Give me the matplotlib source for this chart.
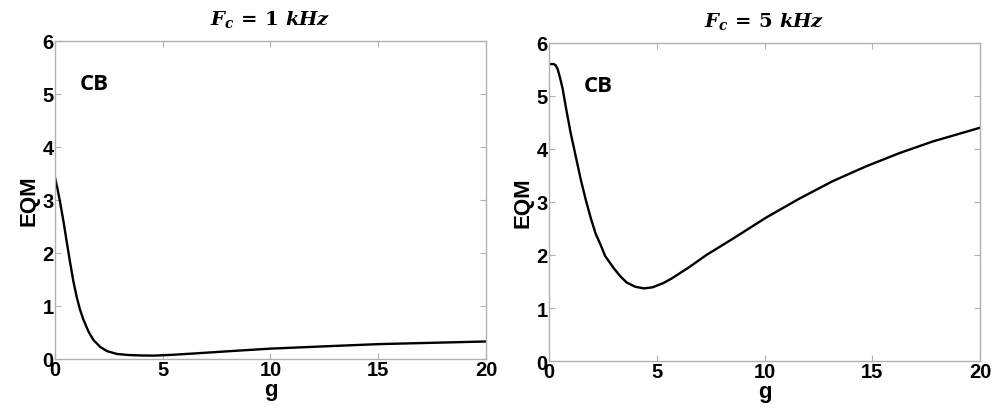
import matplotlib
matplotlib.use("Agg")
import matplotlib.pyplot as plt

plt.rcParams['mathtext.fontset'] = 'custom'
plt.rcParams['mathtext.it'] = 'DejaVu Serif:italic:bold'
plt.rcParams['mathtext.rm'] = 'DejaVu Serif:bold'
plt.rcParams['mathtext.bf'] = 'DejaVu Serif:bold'

# values
g1 = [0, 0.12, 0.23, 0.39, 0.54, 0.7, 0.85, 1.0, 1.16, 1.32, 1.55, 1.78, 2.09, 2.4, 2.87, 3.4,
      4.0, 4.6, 5.5, 6.5, 8.6, 10, 12, 15, 17.5, 20]
eqm1 = [3.42, 3.2, 2.97, 2.6, 2.22, 1.82, 1.47, 1.18, 0.93, 0.74, 0.52, 0.36, 0.23, 0.15, 0.095, 0.075,
        0.066, 0.063, 0.08, 0.105, 0.16, 0.195, 0.23, 0.28, 0.305, 0.33]

g2 = [0, 0.2, 0.3, 0.4, 0.5, 0.62, 0.77, 1.0, 1.24, 1.47, 1.7, 1.93, 2.16, 2.38, 2.6, 3.0, 3.3, 3.6,
      4.0, 4.4, 4.8, 5.3, 5.7, 6.5, 7.3, 8.5, 10.05, 11.6, 13.15, 14.7, 16.25, 17.8, 20]
eqm2 = [5.6, 5.6, 5.58, 5.5, 5.35, 5.15, 4.8, 4.3, 3.85, 3.42, 3.04, 2.7, 2.4, 2.2, 1.98, 1.75, 1.6, 1.48,
        1.4, 1.37, 1.39, 1.47, 1.56, 1.77, 2.0, 2.3, 2.7, 3.06, 3.39, 3.67, 3.92, 4.14, 4.4]

titles = [r'$F_c\,=\,1\ kHz$', r'$F_c\,=\,5\ kHz$']
xticks = [0, 5, 10, 15, 20]
yticks = [0, 1, 2, 3, 4, 5, 6]

fig = plt.figure(figsize=(9.93, 4.10), dpi=100)
ax1 = fig.add_axes([0.0554, 0.122, 0.434, 0.776])
ax2 = fig.add_axes([0.553, 0.117, 0.434, 0.776])

for ax, g, e, t, cbx in [(ax1, g1, eqm1, titles[0], 1.15), (ax2, g2, eqm2, titles[1], 1.6)]:
    ax.plot(g, e, color='black', lw=1.7, solid_joinstyle='round')
    ax.set_xlim(0, 20)
    ax.set_ylim(0, 6)
    ax.set_xticks(xticks)
    ax.set_yticks(yticks)
    ax.tick_params(direction='in', length=4, color='#b0b0b0', top=True, right=True,
                   labelsize=14.5, pad=1)
    for lab in ax.get_xticklabels() + ax.get_yticklabels():
        lab.set_fontweight('bold')
        lab.set_family('Liberation Sans')
    for s in ax.spines.values():
        s.set_color('#b0b0b0')
        s.set_linewidth(1.0)
    ax.set_xlabel('g', fontsize=16, fontweight='bold', family='Liberation Sans', labelpad=0)
    ax.set_ylabel('EQM', fontsize=16, fontweight='bold', family='Liberation Sans', labelpad=2)
    ax.set_title(t, fontsize=14, pad=12)
    ax.text(cbx, 5.2, 'CB', fontsize=16, fontweight='bold', family='Open Sans',
            va='center', ha='left')

fig.savefig('out.png', dpi=100)
